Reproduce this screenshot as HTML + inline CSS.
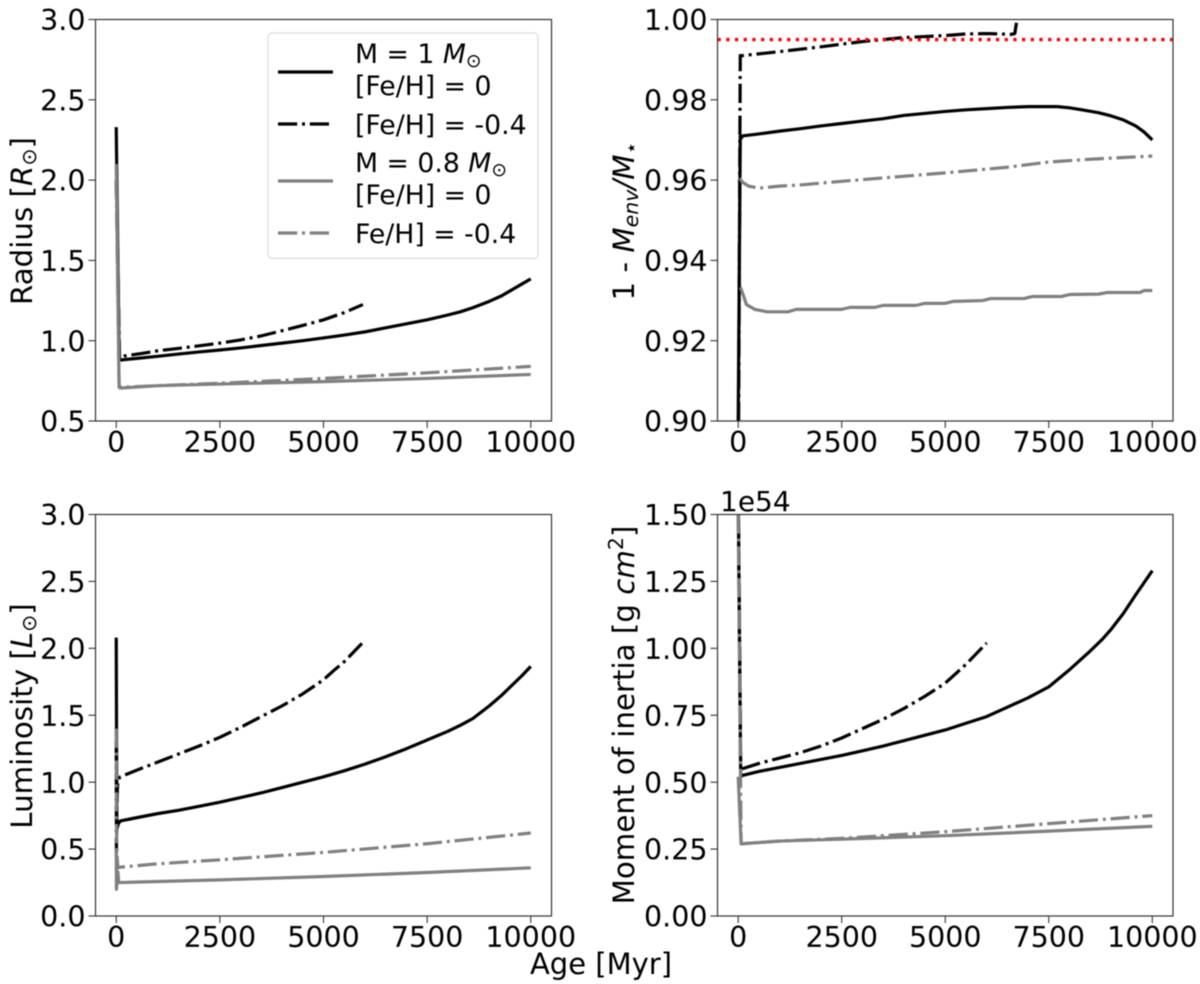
<!DOCTYPE html>
<html lang="en">
<head>
<meta charset="utf-8">
<title>Stellar evolution tracks</title>
<style>
html,body{margin:0;padding:0;background:#fff;}
svg{display:block;font-family:"DejaVu Sans","Liberation Sans",sans-serif;fill:#000;filter:blur(0.45px);}
</style>
</head>
<body>
<svg id="fig" xmlns="http://www.w3.org/2000/svg" width="1200" height="984" viewBox="0 0 1200 984"></svg>
<script>
// ---------- tick labels ----------
const xTickValues = [0, 2500, 5000, 7500, 10000];
const radiusTicks = ["0.5", "1.0", "1.5", "2.0", "2.5", "3.0"];
const envelopeTicks = ["0.90", "0.92", "0.94", "0.96", "0.98", "1.00"];
const luminosityTicks = ["0.0", "0.5", "1.0", "1.5", "2.0", "2.5", "3.0"];
const inertiaTicks = ["0.00", "0.25", "0.50", "0.75", "1.00", "1.25", "1.50"];

// ---------- radius panel ----------
const radiusSolar = [[0,2.33],[70,0.88],[100,0.88],[500,0.89],[1000,0.903],[1500,0.917],[2000,0.93],[2500,0.942],[3000,0.955],[3500,0.97],[4000,0.985],[4500,1.0],[5000,1.017],[5500,1.035],[6000,1.055],[6500,1.08],[7000,1.105],[7500,1.13],[8000,1.16],[8300,1.18],[8600,1.205],[9000,1.245],[9300,1.28],[9600,1.325],[9800,1.355],[10000,1.385]];
const radiusSolarPoor = [[0,2.0],[80,0.89],[200,0.905],[600,0.92],[1000,0.937],[1500,0.952],[2000,0.968],[2500,0.985],[3000,1.005],[3500,1.03],[4000,1.062],[4500,1.095],[5000,1.13],[5500,1.175],[5950,1.225]];
const radiusLowMass = [[0,2.1],[70,0.71],[100,0.705],[1000,0.72],[2500,0.73],[5000,0.745],[7500,0.765],[10000,0.79]];
const radiusLowMassPoor = [[0,2.0],[70,0.71],[100,0.71],[1000,0.72],[2500,0.735],[5000,0.765],[7500,0.8],[10000,0.84]];

// ---------- envelope mass panel ----------
const envelopeSolar = [[0,0.9],[50,0.971],[80,0.9705],[100,0.971],[500,0.9715],[1000,0.9722],[1500,0.9728],[2000,0.9735],[2500,0.9741],[3000,0.9747],[3500,0.9753],[4000,0.9761],[4500,0.9766],[5000,0.9771],[5500,0.9775],[6000,0.9778],[6500,0.9781],[7000,0.9783],[7700,0.9783],[8000,0.978],[8300,0.9775],[8700,0.9768],[9000,0.976],[9300,0.975],[9600,0.9735],[9800,0.972],[10000,0.97]];
const envelopeSolarPoor = [[10,0.9],[50,0.991],[100,0.991],[1000,0.992],[2000,0.9932],[3000,0.9945],[4000,0.9955],[5000,0.996],[5500,0.9964],[6000,0.9965],[6600,0.9963],[6680,0.9965],[6720,0.9992]];
const envelopeLowMass = [[55,0.9333],[100,0.932],[200,0.929],[400,0.9278],[700,0.9272],[1200,0.9272],[1400,0.9278],[2500,0.9278],[2700,0.9283],[3300,0.9283],[3500,0.9288],[4300,0.9288],[4500,0.9293],[5000,0.9293],[5200,0.9298],[5900,0.93],[6100,0.9305],[6900,0.9305],[7100,0.931],[7800,0.931],[8000,0.9315],[8700,0.9316],[8900,0.932],[9700,0.932],[9800,0.9325],[10000,0.9325]];
const envelopeLowMassPoor = [[40,0.9605],[100,0.9595],[250,0.9585],[500,0.958],[1000,0.9585],[1500,0.9588],[2500,0.9597],[5000,0.9618],[6500,0.9632],[7500,0.9645],[8500,0.9652],[10000,0.966]];
const envelopeLimit = [0.995];

// ---------- luminosity panel ----------
const luminositySolar = [[0,2.08],[15,0.65],[50,0.69],[100,0.71],[500,0.735],[1000,0.765],[1500,0.79],[2000,0.82],[2500,0.85],[3000,0.885],[3500,0.92],[4000,0.96],[4500,1.0],[5000,1.04],[5500,1.085],[6000,1.135],[6500,1.19],[7000,1.25],[7500,1.315],[8000,1.38],[8300,1.425],[8600,1.475],[9000,1.57],[9300,1.65],[9600,1.74],[9800,1.8],[10000,1.865]];
const luminositySolarPoor = [[0,1.3],[5,0.48],[20,0.9],[40,1.02],[100,1.04],[500,1.09],[1000,1.15],[1500,1.21],[2000,1.27],[2500,1.335],[3000,1.41],[3500,1.49],[4000,1.57],[4500,1.66],[5000,1.765],[5250,1.835],[5500,1.9],[5750,1.98],[6000,2.06]];
const luminosityLowMass = [[0,0.5],[5,0.2],[40,0.33],[60,0.25],[100,0.25],[2500,0.27],[5000,0.295],[7500,0.325],[10000,0.36]];
const luminosityLowMassPoor = [[0,1.4],[5,0.7],[20,0.45],[40,0.36],[100,0.365],[1000,0.39],[2500,0.42],[5000,0.475],[7500,0.54],[10000,0.62]];

// ---------- moment of inertia panel ----------
const inertiaSolar = [[0,1.6],[60,0.52],[100,0.525],[500,0.54],[1000,0.555],[1500,0.57],[2000,0.585],[2500,0.6],[3000,0.617],[3500,0.635],[4000,0.655],[4500,0.675],[5000,0.695],[5500,0.72],[6000,0.745],[6500,0.78],[7000,0.815],[7500,0.856],[8000,0.92],[8500,0.99],[8800,1.035],[9000,1.07],[9300,1.13],[9600,1.2],[9800,1.245],[10000,1.29]];
const inertiaSolarPoor = [[0,1.6],[60,0.54],[100,0.55],[500,0.57],[1000,0.59],[1500,0.61],[2000,0.635],[2500,0.665],[3000,0.7],[3500,0.735],[4000,0.775],[4500,0.82],[5000,0.87],[5250,0.905],[5500,0.94],[5750,0.98],[6000,1.02]];
const inertiaLowMass = [[0,0.52],[70,0.27],[100,0.27],[1000,0.28],[2500,0.287],[5000,0.3],[7500,0.317],[10000,0.335]];
const inertiaLowMassPoor = [[0,1.5],[70,0.27],[100,0.27],[1000,0.28],[2500,0.29],[5000,0.315],[7500,0.345],[10000,0.375]];

const NS = "http://www.w3.org/2000/svg";
const fig = document.getElementById("fig");
const TICK_SIZE = 28.5;
const LABEL_SIZE = 29.3;
const DASHDOT = "19.2 4.8 3 4.8";
const LW = 3.2;

function make(tag, attrs, parent) {
  const el = document.createElementNS(NS, tag);
  for (const k in attrs) el.setAttribute(k, attrs[k]);
  (parent || fig).appendChild(el);
  return el;
}
function rich(el, parts) {
  parts.forEach(function (p) {
    const t = document.createElementNS(NS, "tspan");
    t.textContent = p.t;
    if (p.i) t.setAttribute("font-style", "italic");
    if (p.s) t.setAttribute("font-size", p.s);
    if (p.dy) t.setAttribute("dy", p.dy);
    el.appendChild(t);
  });
}
function xScale(box, v) {
  return box.x0 + (v + 500) / 11000 * (box.x1 - box.x0);
}
function yScale(box, v) {
  return box.y1 - (v - box.min) / (box.max - box.min) * (box.y1 - box.y0);
}

function drawPanel(box) {
  const g = make("g", {});
  
  

  const clip = make("clipPath", { id: box.name + "-clip" }, g);
  make("rect", { x: box.x0, y: box.y0, width: box.x1 - box.x0, height: box.y1 - box.y0 }, clip);

  const plotted = make("g", { "clip-path": "url(#" + box.name + "-clip)" }, g);
  
  

  box.series.forEach(function (s) {
    const d = s.values.map(function (p) {
      return xScale(box, p[0]).toFixed(2) + "," + yScale(box, p[1]).toFixed(2);
    }).join(" ");
    const line = make("polyline", {
      points: d, fill: "none", stroke: s.color, "stroke-width": LW,
      "stroke-linejoin": "round"
    }, plotted);
    if (s.dash) line.setAttribute("stroke-dasharray", DASHDOT);
    
    
  });

  if (box.limit) {
    const hl = make("line", {
      x1: box.x0, x2: box.x1, y1: yScale(box, box.limit[0]), y2: yScale(box, box.limit[0]),
      stroke: "#ff0000", "stroke-width": 3.3, "stroke-dasharray": "3.3 5.4"
    }, plotted);
    
    
  }

  const frame = make("rect", {
    x: box.x0, y: box.y0, width: box.x1 - box.x0, height: box.y1 - box.y0,
    fill: "none", stroke: "#333", "stroke-width": 1.2
  }, g);
  
  

  xTickValues.forEach(function (v) {
    const x = xScale(box, v);
    const tick = make("line", { x1: x, x2: x, y1: box.y1, y2: box.y1 + 7, stroke: "#333", "stroke-width": 1.1 }, g);
    
    
    const label = make("text", { x: x, y: box.y1 + 31, "text-anchor": "middle", "font-size": TICK_SIZE }, g);
    label.textContent = String(v);
    
    
  });

  box.ticks.forEach(function (txt) {
    const y = yScale(box, parseFloat(txt));
    const tick = make("line", { x1: box.x0 - 7, x2: box.x0, y1: y, y2: y, stroke: "#333", "stroke-width": 1.1 }, g);
    
    
    const label = make("text", { x: box.x0 - 10, y: y + 10.6, "text-anchor": "end", "font-size": TICK_SIZE }, g);
    label.textContent = txt;
    
    
  });

  const title = make("text", {
    x: box.labelX, y: box.labelY, "text-anchor": "middle", "font-size": LABEL_SIZE,
    transform: "rotate(-90 " + box.labelX + " " + box.labelY + ")"
  }, g);
  rich(title, box.label);
  
  
}

const LX0 = 95.5, LX1 = 551.5, RX0 = 717.5, RX1 = 1173;
const TY0 = 19.5, TY1 = 421, BY0 = 514.5, BY1 = 916;

drawPanel({
  name: "radius-panel", x0: LX0, x1: LX1, y0: TY0, y1: TY1, min: 0.5, max: 3, ticks: radiusTicks,
  labelX: 32, labelY: 221,
  label: [{ t: "Radius [" }, { t: "R", i: 1 }, { t: "⊙", s: 20.5, dy: 4 }, { t: "]", dy: -4 }],
  series: [
    { name: "radius-1msun-feh0", values: radiusSolar, color: "#000" },
    { name: "radius-1msun-feh-0.4", values: radiusSolarPoor, color: "#000", dash: 1 },
    { name: "radius-0.8msun-feh0", values: radiusLowMass, color: "#808080" },
    { name: "radius-0.8msun-feh-0.4", values: radiusLowMassPoor, color: "#808080", dash: 1 }
  ]
});
drawPanel({
  name: "envelope-panel", x0: RX0, x1: RX1, y0: TY0, y1: TY1, min: 0.9, max: 1, ticks: envelopeTicks, limit: envelopeLimit,
  labelX: 634, labelY: 221,
  label: [{ t: "1 - " }, { t: "M", i: 1 }, { t: "env", i: 1, s: 20.5, dy: 4 }, { t: "/M", i: 1, dy: -4 }, { t: "⋆", s: 20.5, dy: 4 }],
  series: [
    { name: "envelope-1msun-feh0", values: envelopeSolar, color: "#000" },
    { name: "envelope-1msun-feh-0.4", values: envelopeSolarPoor, color: "#000", dash: 1 },
    { name: "envelope-0.8msun-feh0", values: envelopeLowMass, color: "#808080" },
    { name: "envelope-0.8msun-feh-0.4", values: envelopeLowMassPoor, color: "#808080", dash: 1 }
  ]
});
drawPanel({
  name: "luminosity-panel", x0: LX0, x1: LX1, y0: BY0, y1: BY1, min: 0, max: 3, ticks: luminosityTicks,
  labelX: 32, labelY: 716,
  label: [{ t: "Luminosity [" }, { t: "L", i: 1 }, { t: "⊙", s: 20.5, dy: 4 }, { t: "]", dy: -4 }],
  series: [
    { name: "luminosity-1msun-feh0", values: luminositySolar, color: "#000" },
    { name: "luminosity-1msun-feh-0.4", values: luminositySolarPoor, color: "#000", dash: 1 },
    { name: "luminosity-0.8msun-feh0", values: luminosityLowMass, color: "#808080" },
    { name: "luminosity-0.8msun-feh-0.4", values: luminosityLowMassPoor, color: "#808080", dash: 1 }
  ]
});
drawPanel({
  name: "inertia-panel", x0: RX0, x1: RX1, y0: BY0, y1: BY1, min: 0, max: 1.5, ticks: inertiaTicks,
  labelX: 634, labelY: 715,
  label: [{ t: "Moment of inertia [g " }, { t: "cm", i: 1 }, { t: "2", s: 20.5, dy: -11 }, { t: "]", dy: 11 }],
  series: [
    { name: "inertia-1msun-feh0", values: inertiaSolar, color: "#000" },
    { name: "inertia-1msun-feh-0.4", values: inertiaSolarPoor, color: "#000", dash: 1 },
    { name: "inertia-0.8msun-feh0", values: inertiaLowMass, color: "#808080" },
    { name: "inertia-0.8msun-feh-0.4", values: inertiaLowMassPoor, color: "#808080", dash: 1 }
  ]
});

// Offset text and shared x-axis title
const offset = make("text", { x: 720, y: 511, "font-size": 28 });
offset.textContent = "1e54";



const ageTitle = make("text", { x: 601, y: 974, "text-anchor": "middle", "font-size": 29 });
ageTitle.textContent = "Age [Myr]";



// Legend
const legend = make("g", {});


const legendBox = make("rect", { x: 268, y: 33, width: 270, height: 225.5, rx: 4, ry: 4, fill: "#fff", "fill-opacity": 0.85, stroke: "#dcdcdc", "stroke-width": 1.2 }, legend);



const LS = 26.7;
const legendEntries = [
  { name: "legend-entry-1msun-feh0", y: 72, color: "#000", dash: 0, lines: [
      { y: 63, parts: [{ t: "M = 1 " }, { t: "M", i: 1 }, { t: "⊙", s: 18.7, dy: 4 }] },
      { y: 95, parts: [{ t: "[Fe/H] = 0" }] } ] },
  { name: "legend-entry-1msun-feh-0.4", y: 124, color: "#000", dash: 1, lines: [
      { y: 134, parts: [{ t: "[Fe/H] = -0.4" }] } ] },
  { name: "legend-entry-0.8msun-feh0", y: 181, color: "#808080", dash: 0, lines: [
      { y: 172, parts: [{ t: "M = 0.8 " }, { t: "M", i: 1 }, { t: "⊙", s: 18.7, dy: 4 }] },
      { y: 204, parts: [{ t: "[Fe/H] = 0" }] } ] },
  { name: "legend-entry-0.8msun-feh-0.4", y: 233, color: "#808080", dash: 1, lines: [
      { y: 243, parts: [{ t: "Fe/H] = -0.4" }] } ] }
];
legendEntries.forEach(function (e) {
  const g = make("g", {}, legend);
  
  
  const h = make("line", { x1: 278, x2: 333, y1: e.y, y2: e.y, stroke: e.color, "stroke-width": LW }, g);
  if (e.dash) h.setAttribute("stroke-dasharray", DASHDOT);
  
  
  e.lines.forEach(function (l) {
    const t = make("text", { x: 355, y: l.y, "font-size": LS }, g);
    rich(t, l.parts);
    
    
  });
});
</script>
</body>
</html>
